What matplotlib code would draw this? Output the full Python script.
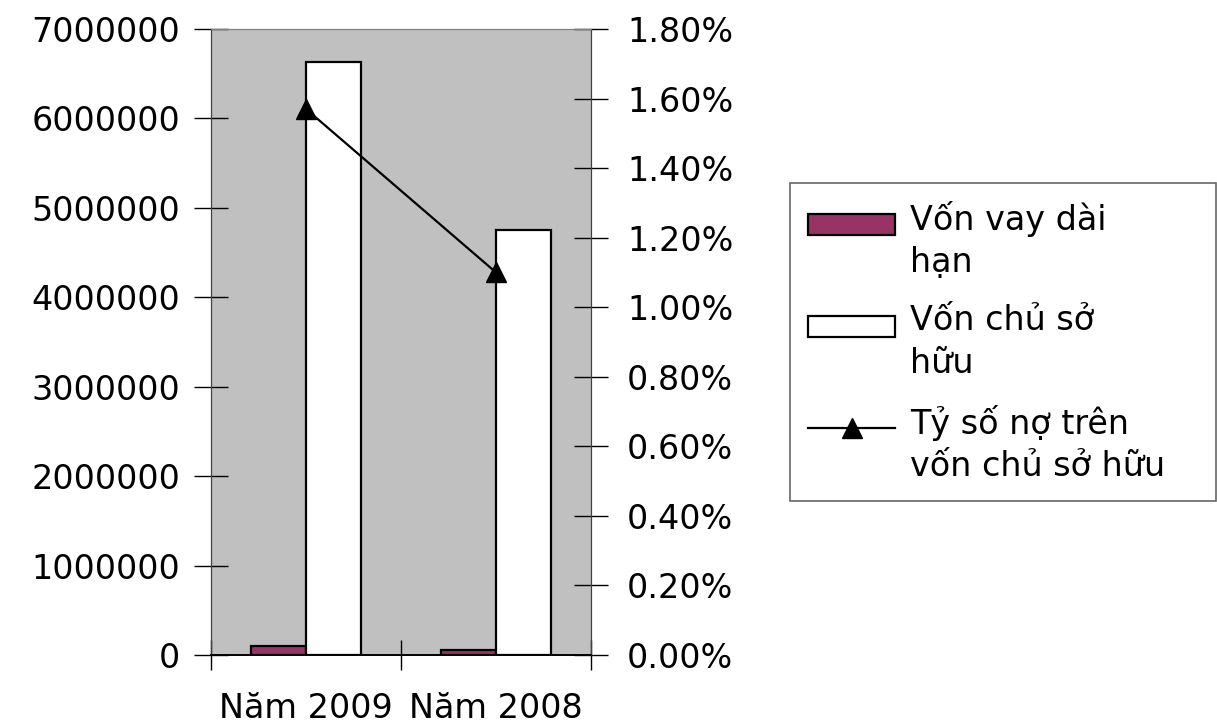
import matplotlib
matplotlib.use("Agg")
import matplotlib.pyplot as plt
import numpy as np
from matplotlib.patches import Rectangle
from matplotlib.lines import Line2D
from matplotlib.legend_handler import HandlerPatch, HandlerLine2D
from matplotlib.ticker import FixedLocator, PercentFormatter

plt.rcParams['font.family'] = ['DejaVu Sans']
FS = 24

# data
years = ['Năm 2009', 'Năm 2008']
von_vay = [104000, 55000]
von_chu = [6630000, 4750000]
ty_so = [1.57, 1.10]  # percent

labels = ['Vốn vay dài\nhạn', 'Vốn chủ sở\nhữu', 'Tỷ số nợ trên\nvốn chủ sở hữu']

LINESP = 1.35
# legend handles sit on the first line of a two-line label
LIFT = 0.5 * LINESP * FS - 4


class TopPatch(HandlerPatch):
    def create_artists(self, legend, orig_handle, xdescent, ydescent,
                       width, height, fontsize, trans):
        p = Rectangle((-xdescent, -ydescent + LIFT), width, height)
        self.update_prop(p, orig_handle, legend)
        p.set_transform(trans)
        return [p]


class TopLine(HandlerLine2D):
    def create_artists(self, *args, **kwargs):
        arts = super().create_artists(*args, **kwargs)
        for a in arts:
            a.set_ydata(np.asarray(a.get_ydata()) + LIFT)
        return arts


fig = plt.figure(figsize=(12.17, 7.24), dpi=100)
ax = fig.add_axes([211 / 1217, 69 / 724, 380 / 1217, 626 / 724])
ax.set_facecolor('#c0c0c0')

x = np.arange(len(years))
w = 0.29
b1 = ax.bar(x - w / 2, von_vay, w, color='#993366', edgecolor='black', linewidth=1.6, zorder=2)
b2 = ax.bar(x + w / 2, von_chu, w, color='white', edgecolor='black', linewidth=1.6, zorder=2)

ax.set_xlim(-0.5, 1.5)
ax.set_ylim(0, 7000000)
ax.set_yticks(np.arange(0, 7000001, 1000000))
ax.set_yticklabels([str(v) for v in range(0, 7000001, 1000000)])
ax.xaxis.set_major_locator(FixedLocator([-0.5, 0.5, 1.5]))
ax.set_xticklabels([])
ax.xaxis.set_minor_locator(FixedLocator(list(x)))
ax.set_xticklabels(years, minor=True)
ax.tick_params(axis='x', which='minor', length=0, labelsize=FS, pad=27)
ax.tick_params(axis='x', which='major', direction='inout', length=22, width=1)
ax.tick_params(axis='y', direction='inout', length=24, width=1, labelsize=FS, pad=10)

ax2 = ax.twinx()
ln, = ax2.plot(x, ty_so, color='black', linewidth=1.6, marker='^', markersize=15, zorder=3)
ax2.set_ylim(0, 1.8)
ax2.set_yticks(np.arange(0, 1.81, 0.2))
ax2.yaxis.set_major_formatter(PercentFormatter(decimals=2))
ax2.tick_params(axis='y', direction='inout', length=24, width=1, labelsize=FS, pad=14)

for a in (ax, ax2):
    a.spines['top'].set_color('#808080')
    a.spines['left'].set_color('#404040')
    a.spines['right'].set_color('#404040')
    a.spines['bottom'].set_color('black')
    a.spines['bottom'].set_linewidth(1.2)

leg = fig.legend([b1[0], b2[0], ln], labels, loc='upper left',
                 bbox_to_anchor=(790 / 1217, 0.0, 426 / 1217, 1 - 183 / 724),
                 mode='expand',
                 handler_map={Rectangle: TopPatch(), Line2D: TopLine()},
                 fontsize=FS, frameon=True, fancybox=False, edgecolor='#404040',
                 handlelength=2.6, handleheight=0.6, handletextpad=0.45,
                 labelspacing=0.75, borderpad=0.55, borderaxespad=0)
leg.get_frame().set_linewidth(1.2)
for t in leg.get_texts():
    t.set_linespacing(LINESP)

fig.savefig('out.png', dpi=100)
